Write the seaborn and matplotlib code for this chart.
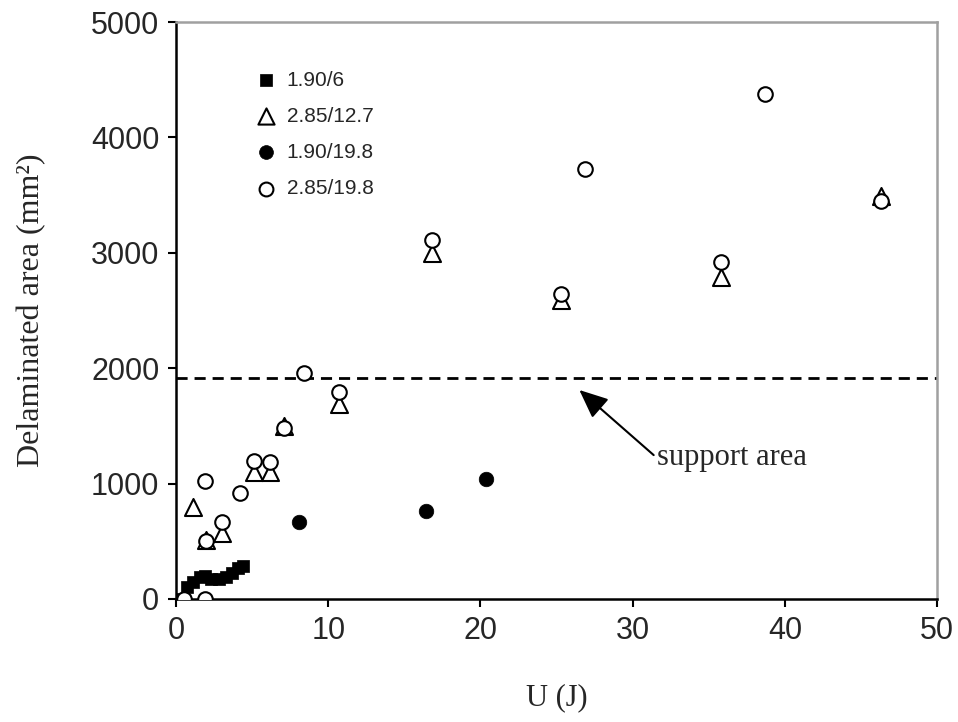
import matplotlib
matplotlib.use("Agg")
import matplotlib.pyplot as plt
import seaborn as sns
import pandas as pd

# ---- data ----
sq_label = "1.90/6"
sq_U = [0.4, 0.7, 1.1, 1.6, 1.9, 2.3, 2.8, 3.3, 3.7, 4.1, 4.4]
sq_A = [0, 100, 150, 190, 200, 170, 175, 190, 225, 265, 285]

tri_label = "2.85/12.7"
tri_U = [1.1, 2.0, 3.0, 5.1, 6.2, 7.1, 10.7, 16.8, 25.3, 35.8, 46.3]
tri_A = [800, 510, 570, 1100, 1100, 1500, 1690, 3000, 2590, 2790, 3490]

fc_label = "1.90/19.8"
fc_U = [8.1, 16.4, 20.4]
fc_A = [670, 760, 1040]

oc_label = "2.85/19.8"
oc_U = [0.5, 1.9, 2.0, 1.9, 3.0, 4.2, 5.1, 6.2, 7.1, 8.4, 10.7, 16.8, 25.3, 26.9, 35.8, 38.7, 46.3]
oc_A = [0, 0, 500, 1020, 670, 915, 1200, 1190, 1480, 1960, 1790, 3110, 2640, 3730, 2920, 4380, 3450]

support_area = 1915
x_ticks = [0, 10, 20, 30, 40, 50]
y_ticks = [0, 1000, 2000, 3000, 4000, 5000]

sns.set_style("ticks")
plt.rcParams['font.family'] = ['Liberation Sans', 'DejaVu Sans']

fig = plt.figure(figsize=(9.58, 7.22), dpi=100)
ax = fig.add_axes([0.1837, 0.1704, 0.7944, 0.7991])

df_sq = pd.DataFrame({"U": sq_U, "A": sq_A})
df_tri = pd.DataFrame({"U": tri_U, "A": tri_A})
df_fc = pd.DataFrame({"U": fc_U, "A": fc_A})
df_oc = pd.DataFrame({"U": oc_U, "A": oc_A})

sns.scatterplot(data=df_sq, x="U", y="A", ax=ax, marker="s", s=80, color="black",
                edgecolor="black", linewidth=0.5, label=sq_label, zorder=3)
sns.scatterplot(data=df_tri, x="U", y="A", ax=ax, marker="^", s=150, facecolor="white",
                edgecolor="black", linewidth=1.5, label=tri_label, zorder=4)
sns.scatterplot(data=df_fc, x="U", y="A", ax=ax, marker="o", s=110, color="black",
                edgecolor="black", linewidth=0.5, label=fc_label, zorder=4)
sns.scatterplot(data=df_oc, x="U", y="A", ax=ax, marker="o", s=110, facecolor="white",
                edgecolor="black", linewidth=1.5, label=oc_label, zorder=5)

ax.axhline(support_area, color="black", lw=2, ls=(0, (4, 2.5)), zorder=2)

ax.annotate("support area", xy=(26.5, 1811), xytext=(31.6, 1222),
            fontsize=22, family="Liberation Serif", va="center", ha="left",
            arrowprops=dict(arrowstyle="-|>,head_length=0.8,head_width=0.35",
                            color="black", lw=1.5, shrinkA=0, shrinkB=0,
                            relpos=(0.0, 0.5)),
            )

ax.set_xlim(0, 50)
ax.set_ylim(0, 5000)
ax.set_xticks(x_ticks)
ax.set_yticks(y_ticks)
ax.tick_params(axis="both", labelsize=22, direction="out", length=6, width=1.5,
               color="black", pad=6)
ax.tick_params(top=False, right=False)

for side in ["left", "bottom"]:
    ax.spines[side].set_color("black")
    ax.spines[side].set_linewidth(1.8)
for side in ["top", "right"]:
    ax.spines[side].set_visible(True)
    ax.spines[side].set_color("#a0a0a0")
    ax.spines[side].set_linewidth(1.8)

ax.set_xlabel("U (J)", fontsize=22, family="Liberation Serif", labelpad=27)
ax.set_ylabel("Delaminated area (mm²)", fontsize=23, family="Liberation Serif", labelpad=32)

leg = ax.legend(loc="upper left", bbox_to_anchor=(0.08, 0.93), frameon=False,
                fontsize=15, labelspacing=0.82, handletextpad=0.0, markerscale=0.95,
                borderaxespad=0)

fig.savefig("out.png", dpi=100)
